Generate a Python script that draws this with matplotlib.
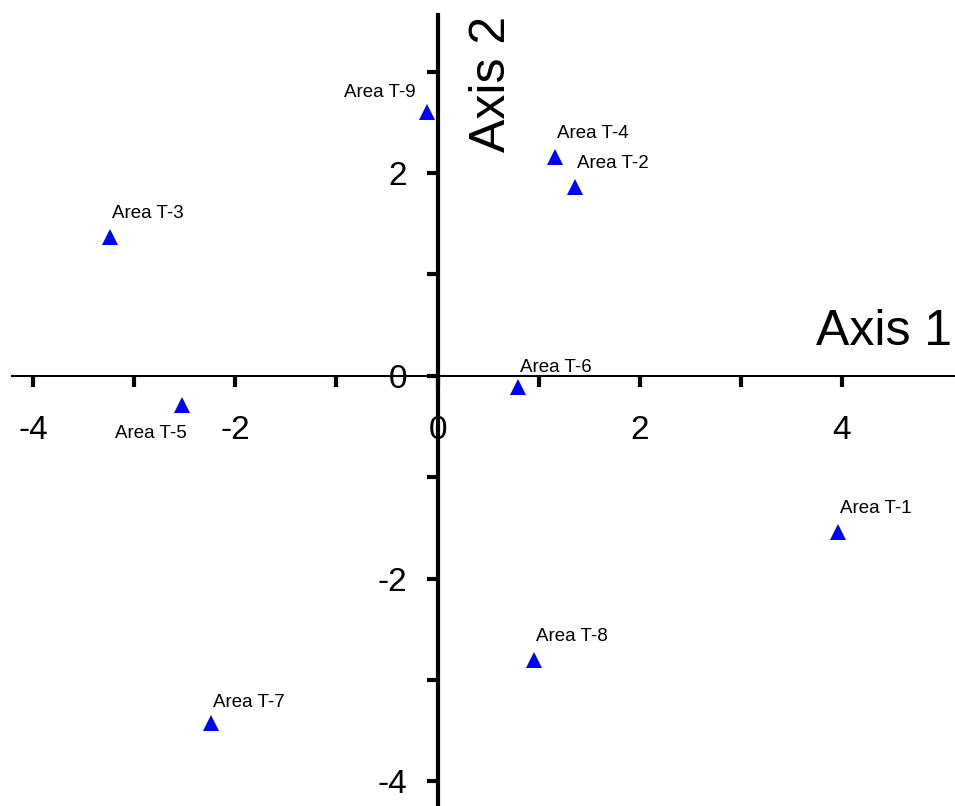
import matplotlib
matplotlib.use('Agg')
import matplotlib.pyplot as plt

# ordination scores
names = ['Area T-1', 'Area T-2', 'Area T-3', 'Area T-4', 'Area T-5',
         'Area T-6', 'Area T-7', 'Area T-8', 'Area T-9']
axis1 = [3.96, 1.36, -3.24, 1.16, -2.53, 0.80, -2.24, 0.95, -0.10]
axis2 = [-1.54, 1.86, 1.37, 2.16, -0.29, -0.11, -3.42, -2.80, 2.60]

x_major = [-4, -2, 0, 2, 4]
x_minor = [-3, -1, 1, 3]
y_major = [-4, -2, 0, 2]
y_minor = [-3, -1, 1, 3]

# label placement (offset points, ha, va)
default_pos = ((1.5, 13.5), 'left', 'baseline')
label_pos = {
    'Area T-6': ((1, 11), 'left', 'baseline'),
    'Area T-7': ((1, 11.5), 'left', 'baseline'),
    'Area T-9': ((-8.5, 11), 'right', 'baseline'),
    'Area T-5': ((3.5, -23.5), 'right', 'baseline'),
}

plt.rcParams['font.family'] = ['Liberation Sans', 'DejaVu Sans']
plt.rcParams['axes.unicode_minus'] = False

fig = plt.figure(figsize=(9.55, 8.06), dpi=100)
ax = fig.add_axes([12 / 955, 0, 943 / 955, 791 / 806])

ax.plot(axis1, axis2, linestyle='none', marker='^', markersize=12,
        color='#0000ff', markeredgewidth=0, zorder=5)

for n, x, y in zip(names, axis1, axis2):
    off, ha, va = label_pos.get(n, default_pos)
    ax.annotate(n, (x, y), xytext=off, textcoords='offset points',
                ha=ha, va=va, fontsize=13.5, color='black')

ax.set_xlim(-4.21, 5.12)
ax.set_ylim(-4.243, 3.558)

# axes crossing at the origin
ax.spines['left'].set_position(('data', 0))
ax.spines['bottom'].set_position(('data', 0))
ax.spines['top'].set_visible(False)
ax.spines['right'].set_visible(False)
ax.spines['left'].set_linewidth(3)
ax.spines['bottom'].set_linewidth(1.5)

ax.set_xticks(x_major)
ax.set_xticks(x_minor, minor=True)
ax.set_yticks(y_major)
ax.set_yticks(y_minor, minor=True)
ax.tick_params(which='both', direction='out', length=8, width=3, color='black')
ax.tick_params(axis='x', which='major', labelsize=24, pad=20)
ax.tick_params(axis='y', which='major', labelsize=24, pad=14)
ax.patch.set_alpha(0)

fig.text(952 / 955, 461 / 806, 'Axis 1', fontsize=36, ha='right', va='baseline')
fig.text(505 / 955, 1 - 84 / 806, 'Axis 2', fontsize=36, rotation=90,
         rotation_mode='anchor', ha='center', va='baseline')

plt.savefig('out.png', dpi=100)
plt.close()
